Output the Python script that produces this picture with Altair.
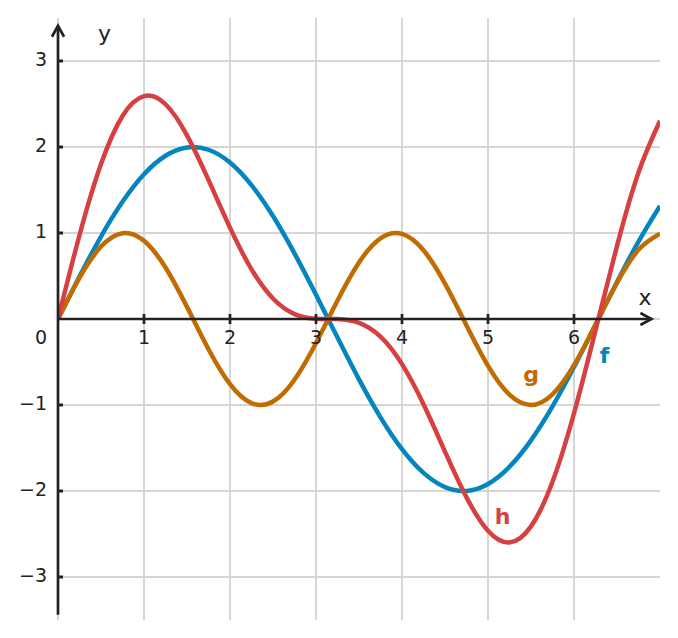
import altair as alt
import pandas as pd

# sampled x positions
xs = [0, 0.25, 0.5, 0.75, 1.0, 1.25, 1.5, 1.75, 2.0, 2.25, 2.5, 2.75, 3.0, 3.25, 3.5,
      3.75, 4.0, 4.25, 4.5, 4.75, 5.0, 5.25, 5.5, 5.75, 6.0, 6.25, 6.5, 6.75, 7.0]
f_vals = [0, 0.495, 0.959, 1.363, 1.683, 1.898, 1.995, 1.968, 1.819, 1.556, 1.197, 0.763,
          0.282, -0.216, -0.702, -1.143, -1.514, -1.790, -1.955, -1.999, -1.918, -1.718,
          -1.411, -1.017, -0.559, -0.066, 0.430, 0.900, 1.314]
g_vals = [0, 0.479, 0.842, 0.998, 0.909, 0.599, 0.141, -0.351, -0.757, -0.978, -0.959,
          -0.706, -0.279, 0.215, 0.657, 0.938, 0.989, 0.799, 0.412, -0.075, -0.544, -0.880,
          -1.000, -0.876, -0.537, -0.066, 0.420, 0.804, 0.991]
h_vals = [0, 0.974, 1.801, 2.361, 2.592, 2.497, 2.136, 1.617, 1.062, 0.578, 0.238, 0.057,
          0.003, -0.001, -0.045, -0.205, -0.525, -0.991, -1.543, -2.074, -2.462, -2.598,
          -2.411, -1.893, -1.096, -0.132, 0.850, 1.704, 2.305]

series_names = ["f", "g", "h"]
series_colors = ["#0585BE", "#C06C00", "#D64040"]

grid_x = [0, 1, 2, 3, 4, 5, 6]
grid_y = [-3, -2, -1, 0, 1, 2, 3]
xtick_vals = [1, 2, 3, 4, 5, 6]
xtick_labels = ["1", "2", "3", "4", "5", "6"]
ytick_vals = [3, 2, 1, -1, -2, -3]
ytick_labels = ["3", "2", "1", "\u22121", "\u22122", "\u22123"]

# curve name labels (data positions)
lab_text = ["f", "g", "h"]
lab_x = [6.355, 5.50, 5.17]
lab_y = [-0.51, -0.73, -2.38]

XD = [0, 7]
YD = [-3.5, 3.5]
AX = "#222222"
FONT = "DejaVu Sans"

xs_scale = alt.Scale(domain=XD, nice=False, zero=False)
ys_scale = alt.Scale(domain=YD, nice=False, zero=False)

def X(field, **kw):
    return alt.X(field, type="quantitative", scale=xs_scale, axis=None, **kw)

def Y(field, **kw):
    return alt.Y(field, type="quantitative", scale=ys_scale, axis=None, **kw)

rows = []
for name, vals in zip(series_names, [f_vals, g_vals, h_vals]):
    for xv, yv in zip(xs, vals):
        rows.append({"x": xv, "y": yv, "fn": name})
curves_df = pd.DataFrame(rows)

gx_df = pd.DataFrame({"gx": grid_x})
gy_df = pd.DataFrame({"gy": grid_y})

grid_v = alt.Chart(gx_df).mark_rule(color="#d6d6d6", strokeWidth=2).encode(
    x=X("gx"), y=alt.value(0), y2=alt.value(602))
grid_h = alt.Chart(gy_df).mark_rule(color="#d6d6d6", strokeWidth=2).encode(
    y=Y("gy"), x=alt.value(0), x2=alt.value(602))

curves = alt.Chart(curves_df).mark_line(strokeWidth=4.5, interpolate="natural", clip=True).encode(
    x=X("x"), y=Y("y"),
    color=alt.Color("fn:N", scale=alt.Scale(domain=series_names, range=series_colors), legend=None),
    order=alt.Order("x:Q"),
    detail="fn:N",
)

# axis lines
xaxis_df = pd.DataFrame({"x1": [0], "x2": [6.9], "y": [0]})
yaxis_df = pd.DataFrame({"y1": [-3.44], "y2": [3.41], "x": [0]})
xaxis = alt.Chart(xaxis_df).mark_rule(color=AX, strokeWidth=2.7).encode(
    x=X("x1"), x2="x2", y=Y("y"))
yaxis = alt.Chart(yaxis_df).mark_rule(color=AX, strokeWidth=2.7).encode(
    y=Y("y1"), y2="y2", x=X("x"))

arrow_up = alt.Chart(pd.DataFrame({"x": [0], "y": [3.41]})).mark_point(
    shape="M -0.55 1 L 0 0 L 0.55 1", size=484, filled=False, color=AX, strokeWidth=2.7,
    opacity=1, strokeJoin="miter").encode(x=X("x"), y=Y("y"))
arrow_right = alt.Chart(pd.DataFrame({"x": [6.9], "y": [0]})).mark_point(
    shape="M -1 -0.55 L 0 0 L -1 0.55", size=484, filled=False, color=AX, strokeWidth=2.7,
    opacity=1, strokeJoin="miter").encode(x=X("x"), y=Y("y"))

xt_df = pd.DataFrame({"x": xtick_vals, "lab": xtick_labels, "y": [0] * len(xtick_vals)})
yt_df = pd.DataFrame({"y": ytick_vals, "lab": ytick_labels, "x": [0] * len(ytick_vals)})

xticks = alt.Chart(xt_df).mark_point(
    shape="M 0 -1 L 0 1", size=100, filled=False, color=AX, strokeWidth=2.7, opacity=1).encode(
    x=X("x"), y=Y("y"))
yticks = alt.Chart(yt_df).mark_point(
    shape="M 0 0 L 1 0", size=100, filled=False, color=AX, strokeWidth=3, opacity=1).encode(
    x=X("x"), y=Y("y"))

xlabels = alt.Chart(xt_df).mark_text(
    font=FONT, fontSize=19, color=AX, baseline="middle", align="center", dy=19).encode(
    x=X("x"), y=Y("y"), text="lab:N")
zero_label = alt.Chart(pd.DataFrame({"x": [0], "y": [0], "lab": ["0"]})).mark_text(
    font=FONT, fontSize=19, color=AX, baseline="middle", align="center", dy=19, dx=-17).encode(
    x=X("x"), y=Y("y"), text="lab:N")
ylabels = alt.Chart(yt_df).mark_text(
    font=FONT, fontSize=19, color=AX, baseline="middle", align="right", dx=-11, dy=-1).encode(
    x=X("x"), y=Y("y"), text="lab:N")

x_title = alt.Chart(pd.DataFrame({"x": [6.826], "y": [0], "lab": ["x"]})).mark_text(
    font=FONT, fontSize=22, color=AX, align="center", baseline="alphabetic", dy=-14).encode(
    x=X("x"), y=Y("y"), text="lab:N")
y_title = alt.Chart(pd.DataFrame({"x": [0.54], "y": [3.233], "lab": ["y"]})).mark_text(
    font=FONT, fontSize=22, color=AX, align="center", baseline="alphabetic").encode(
    x=X("x"), y=Y("y"), text="lab:N")

lab_df = pd.DataFrame({"x": lab_x, "y": lab_y, "fn": lab_text})
curve_labels = alt.Chart(lab_df).mark_text(
    font=FONT, fontSize=22, fontWeight="bold", align="center", baseline="alphabetic").encode(
    x=X("x"), y=Y("y"), text="fn:N",
    color=alt.Color("fn:N", scale=alt.Scale(domain=series_names, range=series_colors), legend=None))

chart = alt.layer(
    grid_v, grid_h, curves, xaxis, yaxis, arrow_up, arrow_right,
    xticks, yticks, xlabels, zero_label, ylabels, x_title, y_title, curve_labels
).properties(
    width=602, height=602,
    autosize="none",
    padding={"left": 58, "top": 18, "right": 18, "bottom": 18},
    background="white",
).configure_view(stroke=None)

chart.save("out.html", embed_options={"renderer": "svg", "actions": False})
